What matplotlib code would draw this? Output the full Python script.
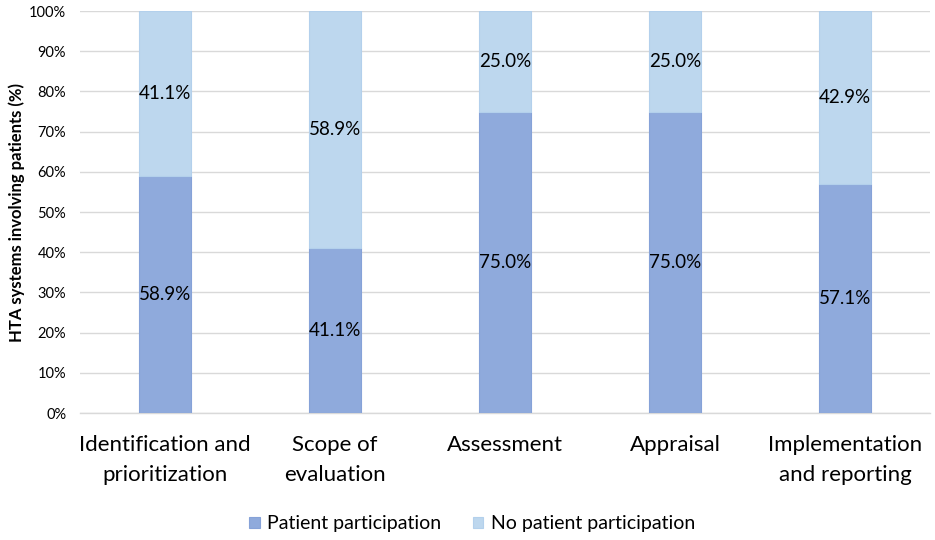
import numpy as np
import matplotlib.pyplot as plt

plt.rcParams['font.family'] = ['Lato', 'DejaVu Sans']

stages = ['Identification and\nprioritization', 'Scope of\nevaluation', 'Assessment',
          'Appraisal', 'Implementation\nand reporting']
participation = [58.9, 41.1, 75.0, 75.0, 57.1]
no_participation = [41.1, 58.9, 25.0, 25.0, 42.9]

c_dark = '#8FAADC'
c_light = '#BDD7EE'

fig = plt.figure(figsize=(9.35, 5.4), dpi=100)
ax = fig.add_axes([0.0856, 0.235, 0.909, 0.7446])

x = np.arange(len(stages))
w = 0.305
b1 = ax.bar(x, participation, w, color=c_dark, edgecolor='#86A2D8', linewidth=0.8,
            label='Patient participation', zorder=3)
b2 = ax.bar(x, no_participation, w, bottom=participation, color=c_light,
            edgecolor='#B3D0EC', linewidth=0.8, label='No patient participation', zorder=3)

for i in range(len(stages)):
    ax.text(x[i], participation[i] / 2, f'{participation[i]:.1f}%', ha='center',
            va='center', fontsize=13.5, color='black', zorder=4)
    ax.text(x[i], participation[i] + no_participation[i] / 2, f'{no_participation[i]:.1f}%',
            ha='center', va='center', fontsize=13.5, color='black', zorder=4)

ax.set_xlim(-0.5, 4.5)
ax.set_ylim(0, 100)
ax.set_yticks(np.arange(0, 101, 10))
ax.set_yticklabels([f'{v}%' for v in range(0, 101, 10)], fontsize=10.5)
ax.set_xticks(x)
ax.set_xticklabels(stages, fontsize=16, linespacing=1.6)
ax.tick_params(axis='both', length=0)
ax.tick_params(axis='x', pad=16)
ax.tick_params(axis='y', pad=10)
ax.grid(axis='y', color='#D9D9D9', linewidth=1, zorder=0)
for s in ['top', 'right', 'left']:
    ax.spines[s].set_visible(False)
ax.spines['bottom'].set_color('#D9D9D9')
ax.spines['bottom'].set_linewidth(1)
ax.set_ylabel('HTA systems involving patients (%)', fontsize=12, fontweight='bold', labelpad=3)

fig.legend(handles=[b1, b2], loc='center', bbox_to_anchor=(0.505, 0.03), ncol=2,
           frameon=False, fontsize=14, handlelength=0.55, handleheight=0.55,
           columnspacing=1.6, handletextpad=0.4)

fig.savefig('out.png', dpi=100)
